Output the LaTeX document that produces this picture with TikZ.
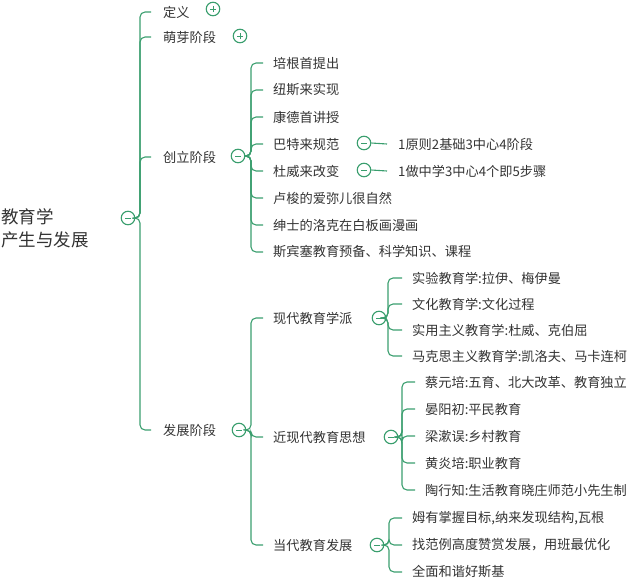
\documentclass[tikz,border=0pt]{standalone}
\usepackage{fontspec}
\setmainfont{Noto Sans CJK SC}
\definecolor{mapgreen}{HTML}{3A9E6E}
\definecolor{mapgrey}{HTML}{333333}
\tikzset{
  topic/.style={anchor=west,inner sep=1pt,text=mapgrey,font=\fontsize{13.2}{15}\selectfont},
  rootnode/.style={anchor=west,inner sep=1pt,text=mapgrey,align=left,font=\fontsize{17.5}{23}\selectfont},
  fold/.style={circle,draw=mapgreen,line width=1.1pt,fill=white,minimum size=13.5pt,inner sep=0pt,
    path picture={\draw[mapgreen,line width=0.8pt] ([xshift=-3pt]path picture bounding box.center) -- ++(6pt,0pt);}},
  foldplus/.style={fold,
    path picture={\draw[mapgreen,line width=0.8pt] ([xshift=-3pt]path picture bounding box.center) -- ++(6pt,0pt)
      ([yshift=-3pt]path picture bounding box.center) -- ++(0pt,6pt);}},
  link/.style={draw=mapgreen,line width=1.1pt,rounded corners=5pt},
}
\begin{document}
\begin{tikzpicture}[x=1pt,y=-1pt]
\useasboundingbox (0,0) rectangle (640,581);
% root
\node[rootnode] (root) at (0,228) {教育学\\产生与发展};
\node[fold] (rootf) at (128,218) {};
% level 1
\node[topic] (def) at (162,12) {定义};
\node[topic] (meng) at (162,37) {萌芽阶段};
\node[topic] (chuang) at (162,157) {创立阶段};
\node[topic] (fazhan) at (162,430) {发展阶段};
\node[foldplus] (deff) at (213,9) {};
\node[foldplus] (mengf) at (240,36) {};
\node[fold] (chuangf) at (238,156) {};
\node[fold] (fazhanf) at (239,430) {};
\foreach \n in {def,meng,chuang,fazhan}
  \draw[link] (rootf.east) -- (140,218) |- ([xshift=-11pt]\n.west);
% chuangli
\foreach \t [count=\i] in {培根首提出,纽斯来实现,康德首讲授,巴特来规范,杜威来改变,卢梭的爱弥儿很自然,绅士的洛克在白板画漫画,斯宾塞教育预备、科学知识、课程}
{
  \node[topic] (c\i) at (272,{36+27*\i}) {\t};
  \draw[link] (chuangf.east) -- (251,156) |- ([xshift=-9pt]c\i.west);
}
\node[fold] (c4f) at (364,143) {};
\node[fold] (c5f) at (364,170) {};
\node[topic] (c4a) at (397,144) {1原则2基础3中心4阶段};
\node[topic] (c5a) at (397,171) {1做中学3中心4个即5步骤};
\draw[link] (c4f.east) -- ([xshift=-10pt]c4a.west);
\draw[link] (c5f.east) -- ([xshift=-10pt]c5a.west);
% fazhan
\node[topic] (xd) at (272,318) {现代教育学派};
\node[topic] (jxd) at (272,437) {近现代教育思想};
\node[topic] (dd) at (272,545) {当代教育发展};
\foreach \n in {xd,jxd,dd}
  \draw[link] (fazhanf.east) -- (251,430) |- ([xshift=-9pt]\n.west);
\node[fold] (xdf) at (379,318) {};
\node[fold] (jxdf) at (391,437) {};
\node[fold] (ddf) at (377,545) {};
\foreach \t/\y [count=\i] in {实验教育学:拉伊、梅伊曼/278,文化教育学:文化过程/304,实用主义教育学:杜威、克伯屈/330,马克思主义教育学:凯洛夫、马卡连柯/356}
{
  \node[topic] (x\i) at (411,\y) {\t};
  \draw[link] (xdf.east) -- (388,318) |- ([xshift=-9pt]x\i.west);
}
\foreach \t/\y [count=\i] in {蔡元培:五育、北大改革、教育独立/382,晏阳初:平民教育/409,梁漱误:乡村教育/436,黄炎培:职业教育/463,陶行知:生活教育晓庄师范小先生制/490}
{
  \node[topic] (j\i) at (424,\y) {\t};
  \draw[link] (jxdf.east) -- (402,437) |- ([xshift=-9pt]j\i.west);
}
\foreach \t/\y [count=\i] in {{姆有掌握目标,纳来发现结构,瓦根}/518,{找范例高度赞赏发展，用班最优化}/545,全面和谐好斯基/572}
{
  \node[topic] (d\i) at (411,\y) {\t};
  \draw[link] (ddf.east) -- (389,545) |- ([xshift=-9pt]d\i.west);
}
\end{tikzpicture}
\end{document}
